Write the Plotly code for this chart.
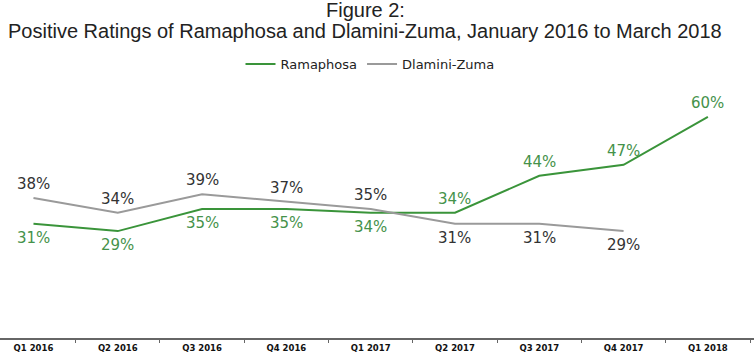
import plotly.graph_objects as go

quarters = ["Q1 2016", "Q2 2016", "Q3 2016", "Q4 2016", "Q1 2017",
            "Q2 2017", "Q3 2017", "Q4 2017", "Q1 2018"]
ramaphosa = [31, 29, 35, 35, 34, 34, 44, 47, 60]
dlamini_zuma = [38, 34, 39, 37, 35, 31, 31, 29]

# label placement (style): +1 above, -1 below
ram_side = [-1, -1, -1, -1, -1, 1, 1, 1, 1]
dz_side = [1, 1, 1, 1, 1, -1, -1, -1]

GREEN = "#3a943a"
GRAY = "#9a9a9a"

fig = go.Figure()
fig.add_trace(go.Scatter(x=quarters, y=ramaphosa, mode="lines", name="Ramaphosa",
                         line=dict(color=GREEN, width=2)))
fig.add_trace(go.Scatter(x=quarters[:len(dlamini_zuma)], y=dlamini_zuma, mode="lines",
                         name="Dlamini-Zuma", line=dict(color=GRAY, width=2)))

annotations = []
for q, v, s in zip(quarters, ramaphosa, ram_side):
    annotations.append(dict(x=q, y=v, xref="x", yref="y", text=f"{v}%", showarrow=False,
                            yshift=14 * s, font=dict(family="DejaVu Sans", size=15, color="#45924a")))
for q, v, s in zip(quarters, dlamini_zuma, dz_side):
    annotations.append(dict(x=q, y=v, xref="x", yref="y", text=f"{v}%", showarrow=False,
                            yshift=14 * s, font=dict(family="DejaVu Sans", size=15, color="#333333")))

top, bottom, H = 80, 23, 361
ph = H - top - bottom

for txt, ypx in [("Figure 2:", 10.5),
                 ("Positive Ratings of Ramaphosa and Dlamini-Zuma, January 2016 to March 2018", 30.5)]:
    annotations.append(dict(x=365 / 754, y=(H - bottom - ypx) / ph, xref="paper", yref="paper",
                            text=txt, showarrow=False, yanchor="middle",
                            font=dict(family="Liberation Sans", size=20, color="#222222")))

fig.update_layout(
    width=754, height=361,
    margin=dict(l=0, r=0, t=top, b=bottom, autoexpand=False),
    paper_bgcolor="white", plot_bgcolor="white",
    showlegend=True,
    legend=dict(orientation="h", x=370 / 754, xanchor="center", y=(H - bottom - 64) / ph,
                yanchor="middle", font=dict(family="DejaVu Sans", size=13, color="#222222"),
                itemwidth=30, bgcolor="rgba(0,0,0,0)"),
    annotations=annotations,
    xaxis=dict(type="category", range=[-0.397, 8.547], showline=True, linecolor="#666666",
               linewidth=1.5, ticks="outside", tickson="boundaries", ticklen=3,
               tickcolor="#666666", showgrid=False, zeroline=False, ticklabelstandoff=1,
               tickfont=dict(family="DejaVu Sans", size=8.5, color="#111111", weight="bold")),
    yaxis=dict(range=[0, 70], visible=False, showgrid=False, zeroline=False),
)

fig.write_html("out.html", config={"displayModeBar": False},
               post_script="document.body.style.margin='0';document.body.style.overflow='hidden';")
